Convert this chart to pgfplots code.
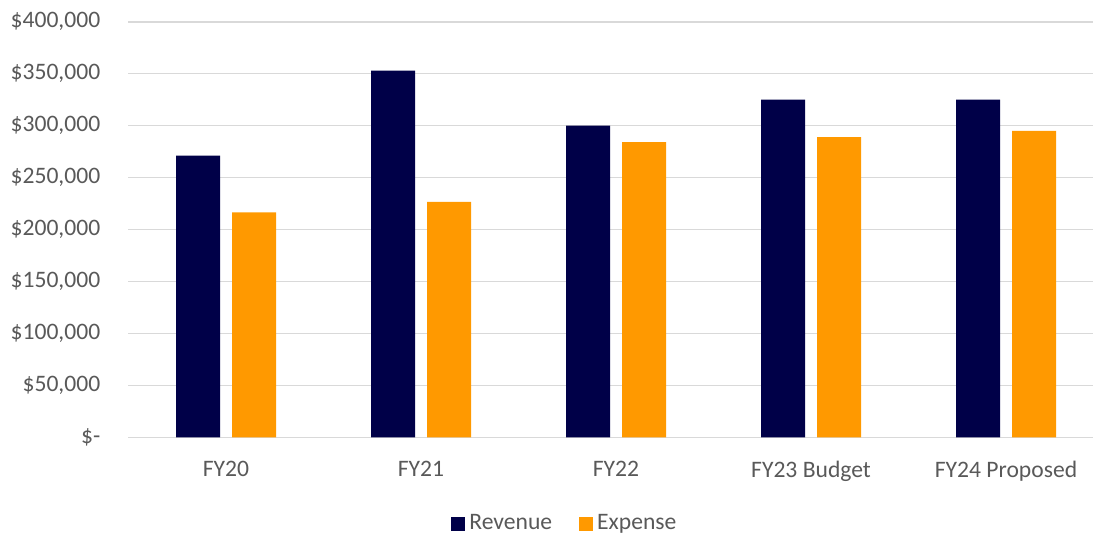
\documentclass[border=0pt]{standalone}
\usepackage{fontspec}
\setmainfont{Carlito}
\usepackage{pgfplots}
\pgfplotsset{compat=1.18}
\definecolor{navy}{RGB}{0,0,72}
\definecolor{amber}{RGB}{255,153,0}
\definecolor{txt}{RGB}{89,89,89}
\definecolor{gridc}{RGB}{217,217,217}

\begin{document}
\fontsize{11.8bp}{14bp}\selectfont
\begin{tikzpicture}
\useasboundingbox (-64.25bp,-48.35bp) rectangle (482.25bp,218.65bp);
\begin{axis}[
    scale only axis,
    width=482.25bp, height=207.8bp,
    xmin=-0.5, xmax=4.446,
    ymin=0, ymax=400000,
    axis line style={draw=none},
    major tick length=0pt,
    ymajorgrids,
    grid style={gridc, line width=0.8bp},
    xtick={0,1,2,3,4},
    xticklabels={FY20,FY21,FY22,FY23 Budget,FY24 Proposed},
    ytick={0,50000,100000,150000,200000,250000,300000,350000,400000},
    yticklabels={{\$-\hspace{10bp}},{\$50,000},{\$100,000},{\$150,000},{\$200,000},{\$250,000},{\$300,000},{\$350,000},{\$400,000}},
    scaled y ticks=false,
    ticklabel style={text=txt, font=\fontsize{11.8bp}{14bp}\selectfont},
    xticklabel style={yshift=-8bp},
    yticklabel style={xshift=-10bp},
    legend style={at={(0.4535,-0.208)}, anchor=center, draw=none, fill=none,
        legend columns=2, text=txt, font=\fontsize{11.8bp}{14bp}\selectfont,
        /tikz/every even column/.append style={column sep=11.5bp}},
    legend image code/.code={\fill[#1] (-1.5bp,-3.5bp) rectangle (5.5bp,3.5bp);},
]
% Revenue
\addplot[ybar, bar width=22bp, bar shift=-14bp, fill=navy, draw=none] coordinates {
    (0, 271000)
    (1, 353000)
    (2, 300000)
    (3, 325000)
    (4, 325000)
};
\addlegendentry{Revenue}
% Expense
\addplot[ybar, bar width=22bp, bar shift=14bp, fill=amber, draw=none] coordinates {
    (0, 216500)
    (1, 226500)
    (2, 284000)
    (3, 289000)
    (4, 295000)
};
\addlegendentry{Expense}
\end{axis}
\end{tikzpicture}
\end{document}
